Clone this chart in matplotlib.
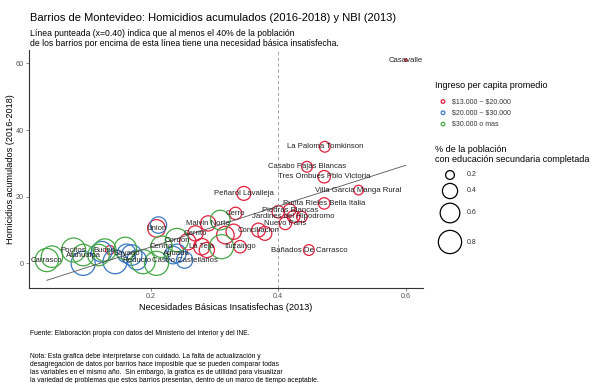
import numpy as np
import matplotlib.pyplot as plt

plt.rcParams['font.family'] = ['Liberation Sans', 'DejaVu Sans']

# barrios (empty name = point without label)
barrios = ["Casavalle", "La Paloma Tomkinson", "Casabo Pajas Blancas", "Tres Ombues Pblo Victoria",
           "Villa Garcia Manga Rural", "Punta Rieles Bella Italia", "Piedras Blancas",
           "Jardines del Hipodromo", "Nuevo Paris", "Conciliacion", "Cerro", "Peñarol Lavalleja",
           "Bañados De Carrasco", "Ituzaingo", "La Teja", "Malvin Norte", "Cerrito", "Union",
           "Cordon", "Centro", "Aguada", "Castro Castellanos", "Reducto", "Sayago", "Buceo",
           "Pocitos", "Atahualpa", "Carrasco",
           "", "", "", "", "", "", "", "", "", "", "", "", "", "", "", "", "", "", "", ""]
nbi = [0.600, 0.473, 0.445, 0.472, 0.526, 0.472, 0.418, 0.424, 0.411, 0.369, 0.333, 0.346,
       0.448, 0.340, 0.280, 0.290, 0.270, 0.209, 0.241, 0.217, 0.241, 0.253, 0.178, 0.162,
       0.128, 0.079, 0.094, 0.037,
       0.094, 0.123, 0.118, 0.160, 0.144, 0.136, 0.170, 0.188, 0.209, 0.235, 0.311, 0.258,
       0.288, 0.317, 0.309, 0.330, 0.379, 0.400, 0.437, 0.212, 0.045]
homicidios = [61, 35, 29, 26, 22, 18, 16, 14, 12, 10, 15, 21,
              4, 5, 5, 12, 9, 10.5, 7, 5, 3, 1, 1, 3,
              4, 4, 2.5, 1,
              0, 3.5, 2.5, 4.5, 0.5, 4, 2.5, 0.5, 0, 2.5, 5, 6.5,
              4, 8.5, 13, 9.5, 9, 15.5, 14, 11.5, 2]
# 0: $13.000 ~ $20.000, 1: $20.000 ~ $30.000, 2: $30.000 o mas
ingreso = [0, 0, 0, 0, 0, 0, 0, 0, 0, 0, 0, 0,
           0, 0, 0, 0, 0, 0, 2, 2, 1, 1, 1, 1,
           2, 2, 2, 2,
           1, 1, 2, 2, 1, 0, 1, 2, 2, 1, 2, 0,
           0, 0, 2, 0, 0, 0, 0, 1, 2]
educacion = [0.10, 0.25, 0.25, 0.30, 0.22, 0.27, 0.30, 0.30, 0.30, 0.35, 0.30, 0.35,
             0.25, 0.30, 0.45, 0.40, 0.40, 0.50, 0.80, 0.70, 0.55, 0.45, 0.60, 0.55,
             0.75, 0.85, 0.70, 0.80,
             0.85, 0.65, 0.70, 0.75, 0.85, 0.20, 0.65, 0.85, 0.85, 0.50, 0.85, 0.45,
             0.40, 0.50, 0.60, 0.40, 0.35, 0.30, 0.25, 0.45, 0.70]

grupos = [r"\$13.000 ~ \$20.000", r"\$20.000 ~ \$30.000", r"\$30.000 o mas"]
colores = ["#E0203C", "#3A78C2", "#45A845"]
edu_legend = [0.2, 0.4, 0.6, 0.8]


def area(v):
    return np.clip(400 * (np.asarray(v) - 0.1), 3, None)


fig = plt.figure(figsize=(6.09, 3.83), dpi=100)
ax = fig.add_axes([0.0476, 0.248, 0.647, 0.621])

x = np.array(nbi)
y = np.array(homicidios)
g = np.array(ingreso)
e = np.array(educacion)
for k in range(3):
    m = g == k
    ax.scatter(x[m], y[m], s=area(e[m]), facecolors="none", edgecolors=colores[k], linewidths=0.9)

# linear fit
b1, b0 = np.polyfit(x, y, 1)
xs = np.array([x.min(), x.max()])
ax.plot(xs, b0 + b1 * xs, color="#555555", lw=0.6)

ax.axvline(0.4, color="#999999", lw=0.6, ls=(0, (4, 3)))

for name, xi, yi in zip(barrios, nbi, homicidios):
    if name:
        ax.text(xi, yi, name, ha="center", va="center", fontsize=5.6, color="#222222")

ax.set_xlim(0.009, 0.627)
ax.set_ylim(-7.4, 64)
ax.set_xticks([0.2, 0.4, 0.6])
ax.set_yticks([0, 20, 40, 60])
ax.tick_params(labelsize=5.2, labelcolor="#555555", color="#555555", length=2, width=0.5, pad=1.5)
for s in ["top", "right"]:
    ax.spines[s].set_visible(False)
for s in ["left", "bottom"]:
    ax.spines[s].set_linewidth(0.8)
    ax.spines[s].set_color("#333333")
ax.set_xlabel("Necesidades Básicas Insatisfechas (2013)", fontsize=6.6, labelpad=2)
ax.set_ylabel("Homicidios acumulados (2016-2018)", fontsize=6.6, labelpad=1)

fig.text(0.049, 0.952, "Barrios de Montevideo: Homicidios acumulados (2016-2018) y NBI (2013)",
         fontsize=8, va="center")
fig.text(0.049, 0.9, "Línea punteada (x=0.40) indica que al menos el 40% de la población\n"
         "de los barrios por encima de esta línea tiene una necesidad básica insatisfecha.",
         fontsize=6.2, va="center", linespacing=1.15)

fig.text(0.049, 0.13, "Fuente: Elaboración propia con datos del Ministerio del Interior y del INE.",
         fontsize=4.9, va="center")
fig.text(0.049, 0.039, "Nota: Esta grafica debe interpretarse con cuidado. La falta de actualización y\n"
         "desagregación de datos por barrios hace imposible que se pueden comparar todas\n"
         "las variables en el mismo año.  Sin embargo, la grafica es de utilidad para visualizar\n"
         "la variedad de problemas que estos barrios presentan, dentro de un marco de tiempo aceptable.",
         fontsize=4.9, va="center", linespacing=1.2)

# legends, drawn in a pixel-coordinate overlay
lax = fig.add_axes([0, 0, 1, 1])
lax.set_xlim(0, 609)
lax.set_ylim(383, 0)
lax.axis("off")

lax.text(435, 86, "Ingreso per capita promedio", fontsize=6.5, va="center")
for i, (lab, c) in enumerate(zip(grupos, colores)):
    yy = 101.5 + i * 11.3
    lax.scatter([443], [yy], s=7, facecolors="none", edgecolors=c, linewidths=0.9)
    lax.text(452.5, yy, lab, fontsize=5, va="center", color="#333333")

lax.text(435, 154.5, "% de la población\ncon educación secundaria completada", fontsize=6.5,
         va="center", linespacing=1.2)
legend_y = [175, 191, 213, 242]
for v, yy in zip(edu_legend, legend_y):
    lax.scatter([450], [yy], s=area(v), facecolors="none", edgecolors="black", linewidths=0.9)
    lax.text(467, yy, str(v), fontsize=5, va="center", color="#333333")

fig.savefig("out.png", dpi=100)
